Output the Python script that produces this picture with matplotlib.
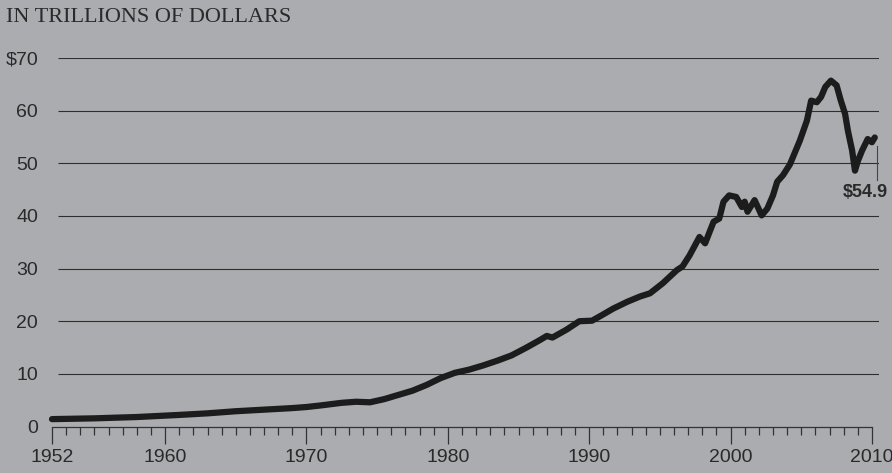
import matplotlib
matplotlib.use("Agg")
import matplotlib.pyplot as plt
from matplotlib.ticker import FixedLocator, MultipleLocator

# household net worth, trillions of dollars
years = [1952.0, 1955.0, 1958.0, 1961.0, 1963.0, 1965.0, 1967.0, 1969.0, 1970.0,
         1971.0, 1972.5, 1973.5, 1974.5, 1975.5, 1976.5, 1977.5, 1978.5, 1979.5,
         1980.5, 1981.5, 1982.5, 1983.5, 1984.5, 1985.5, 1986.5, 1987.0, 1987.4,
         1988.4, 1989.3, 1990.2, 1990.8, 1991.7, 1992.7, 1993.6, 1994.3, 1995.2,
         1996.2, 1996.6, 1997.1, 1997.8, 1998.2, 1998.8, 1999.2, 1999.5, 1999.9,
         2000.4, 2000.8, 2001.0, 2001.2, 2001.7, 2002.2, 2002.6, 2003.0, 2003.3,
         2003.7, 2004.2, 2004.9, 2005.4, 2005.7, 2006.1, 2006.4, 2006.7, 2007.1,
         2007.5, 2007.8, 2008.1, 2008.3, 2008.6, 2008.8, 2009.0, 2009.3, 2009.7,
         2010.0, 2010.2]
values = [1.4, 1.55, 1.8, 2.2, 2.5, 2.9, 3.2, 3.5, 3.7,
          4.0, 4.5, 4.7, 4.6, 5.2, 6.0, 6.8, 7.9, 9.2,
          10.2, 10.8, 11.6, 12.5, 13.5, 14.9, 16.4, 17.2, 16.9,
          18.4, 20.0, 20.1, 21.0, 22.4, 23.7, 24.7, 25.3, 27.2,
          29.7, 30.4, 32.5, 36.0, 34.8, 38.9, 39.5, 42.7, 43.9,
          43.6, 41.7, 42.7, 40.8, 43.0, 40.1, 41.4, 43.9, 46.5,
          47.7, 49.8, 54.3, 58.1, 61.9, 61.6, 62.6, 64.5, 65.7,
          64.8, 61.9, 59.4, 56.2, 52.4, 48.6, 50.4, 52.4, 54.6,
          54.0, 54.9]

y_ticks = [0, 10, 20, 30, 40, 50, 60, 70]
y_labels = ["0", "10", "20", "30", "40", "50", "60", "$70"]
x_major = [1952, 1960, 1970, 1980, 1990, 2000, 2010]
last_label = "$54.9"
title = "IN TRILLIONS OF DOLLARS"

bg = "#aaacaf"
sans = ["Liberation Sans Narrow", "Liberation Sans", "DejaVu Sans"]

fig = plt.figure(figsize=(8.92, 4.73), dpi=100, facecolor=bg)
ax = fig.add_axes([52 / 892, 1 - 426.5 / 473, (879 - 52) / 892, (426.5 - 58) / 473])
ax.set_facecolor(bg)

ax.set_xlim(1952, 2010.5)
ax.set_ylim(0, 70)

# grid lines (no line at zero, the tick axis is there)
ax.hlines(y_ticks[1:], 1952.4, 2010.5, color="#2e2e2e", lw=0.8, zorder=1)

ax.plot(years, values, color="#1c1c1c", lw=4.5, solid_capstyle="round",
        solid_joinstyle="round", zorder=3, clip_on=False)

# leader and end label
ax.plot([2010.35, 2010.35], [53.3, 46.9], color="#444444", lw=0.8, clip_on=False)
ax.text(2009.5, 44.4, last_label, ha="center", va="center", fontsize=13,
        fontweight="bold", color="#2a2a2a", family=["Liberation Sans", "DejaVu Sans"])

for s in ["top", "right", "left"]:
    ax.spines[s].set_visible(False)
ax.spines["bottom"].set_bounds(1952, 2010)
ax.spines["bottom"].set_color("#333333")
ax.spines["bottom"].set_linewidth(0.9)

ax.xaxis.set_major_locator(FixedLocator(x_major))
ax.xaxis.set_minor_locator(MultipleLocator(1))
ax.tick_params(axis="x", which="major", length=12, width=0.9, color="#333333",
               pad=4, labelsize=14, labelcolor="#2a2a2a")
ax.tick_params(axis="x", which="minor", length=5.5, width=0.9, color="#333333")

ax.set_yticks(y_ticks)
ax.set_yticklabels(y_labels)
ax.tick_params(axis="y", length=0, pad=10, labelsize=14, labelcolor="#2a2a2a")

for lab in ax.get_xticklabels() + ax.get_yticklabels():
    lab.set_family(sans)

fig.text(6 / 892, 1 - 17 / 473, title, ha="left", va="center", fontsize=16,
         color="#2a2a2a", family=["Liberation Serif", "DejaVu Serif"])

fig.savefig("out.png", dpi=100, facecolor=bg)
